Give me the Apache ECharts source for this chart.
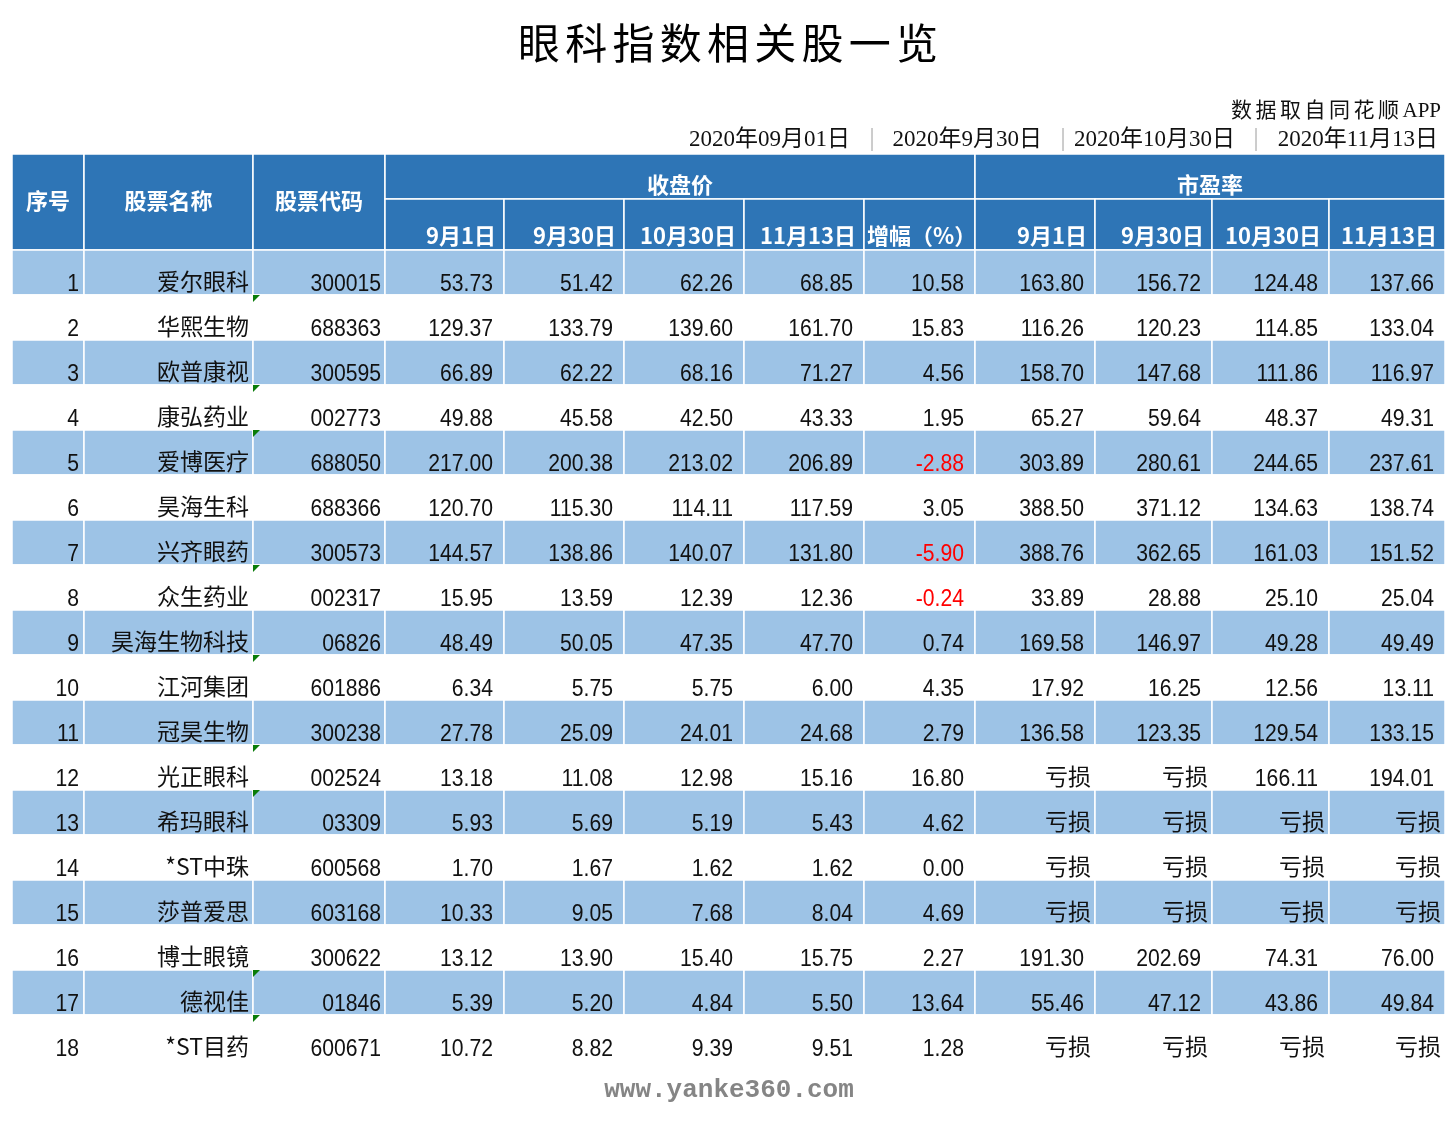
<!DOCTYPE html>
<html>
<head>
<meta charset="utf-8">
<title>眼科指数相关股一览</title>
<script src="https://cdn.jsdelivr.net/npm/echarts@6/dist/echarts.min.js"></script>
<style>
  html, body { margin: 0; padding: 0; background: #fff; }
  #main { width: 1452px; height: 1141px; }
</style>
</head>
<body>
<div id="main"></div>
<script>
// 数据
var names = ['爱尔眼科', '华熙生物', '欧普康视', '康弘药业', '爱博医疗', '昊海生科', '兴齐眼药', '众生药业', '昊海生物科技',
  '江河集团', '冠昊生物', '光正眼科', '希玛眼科', '*ST中珠', '莎普爱思', '博士眼镜', '德视佳', '*ST目药'];
var codes = ['300015', '688363', '300595', '002773', '688050', '688366', '300573', '002317', '06826',
  '601886', '300238', '002524', '03309', '600568', '603168', '300622', '01846', '600671'];
var close0901 = [53.73, 129.37, 66.89, 49.88, 217.00, 120.70, 144.57, 15.95, 48.49, 6.34, 27.78, 13.18, 5.93, 1.70, 10.33, 13.12, 5.39, 10.72];
var close0930 = [51.42, 133.79, 62.22, 45.58, 200.38, 115.30, 138.86, 13.59, 50.05, 5.75, 25.09, 11.08, 5.69, 1.67, 9.05, 13.90, 5.20, 8.82];
var close1030 = [62.26, 139.60, 68.16, 42.50, 213.02, 114.11, 140.07, 12.39, 47.35, 5.75, 24.01, 12.98, 5.19, 1.62, 7.68, 15.40, 4.84, 9.39];
var close1113 = [68.85, 161.70, 71.27, 43.33, 206.89, 117.59, 131.80, 12.36, 47.70, 6.00, 24.68, 15.16, 5.43, 1.62, 8.04, 15.75, 5.50, 9.51];
var change = [10.58, 15.83, 4.56, 1.95, -2.88, 3.05, -5.90, -0.24, 0.74, 4.35, 2.79, 16.80, 4.62, 0.00, 4.69, 2.27, 13.64, 1.28];
// null = 亏损
var pe0901 = [163.80, 116.26, 158.70, 65.27, 303.89, 388.50, 388.76, 33.89, 169.58, 17.92, 136.58, null, null, null, null, 191.30, 55.46, null];
var pe0930 = [156.72, 120.23, 147.68, 59.64, 280.61, 371.12, 362.65, 28.88, 146.97, 16.25, 123.35, null, null, null, null, 202.69, 47.12, null];
var pe1030 = [124.48, 114.85, 111.86, 48.37, 244.65, 134.63, 161.03, 25.10, 49.28, 12.56, 129.54, 166.11, null, null, null, 74.31, 43.86, null];
var pe1113 = [137.66, 133.04, 116.97, 49.31, 237.61, 138.74, 151.52, 25.04, 49.49, 13.11, 133.15, 194.01, null, null, null, 76.00, 49.84, null];
// 代码列左上角的绿色小三角（以文本形式存储的数字）
var textNumRows = [2, 4, 5, 8, 10, 12, 13, 17, 18];

var topHeaders = ['序号', '股票名称', '股票代码'];
var groupHeaders = ['收盘价', '市盈率'];
var subHeaders = ['9月1日', '9月30日', '10月30日', '11月13日', '增幅（%）', '9月1日', '9月30日', '10月30日', '11月13日'];
var dateLabels = ['2020年09月01日', '2020年9月30日', '2020年10月30日', '2020年11月13日'];

// 版式
var colWidths = [72, 169, 132, 119, 120, 120, 120, 111, 120, 117, 117, 116];
var bandHeights = [45, 51];
var rowHeight = 45;
var colEdges = [0];
for (var i = 0; i < colWidths.length; i++) colEdges.push(colEdges[i] + colWidths[i]);
var headerHeight = bandHeights[0] + bandHeights[1];
var tableWidth = colEdges[colEdges.length - 1];
var tableHeight = headerHeight + rowHeight * names.length;

var HEAD_BG = '#2e75b6';
var STRIPE_BG = '#9dc3e6';
var NUM_FONT = '"Liberation Sans", "Noto Sans CJK SC", sans-serif';
var CJK_FONT = '"Noto Sans CJK SC", sans-serif';

function fmt(v) {
  return v == null ? '亏损' : v.toFixed(2);
}

// 表体单元格
var bodyCells = [];
for (var r = 0; r < names.length; r++) {
  var row = [
    { text: String(r + 1), kind: 'num', pad: 5 },
    { text: names[r], kind: 'cjk', pad: 4 },
    { text: codes[r], kind: 'num', pad: 4, flag: textNumRows.indexOf(r + 1) >= 0 },
    { text: fmt(close0901[r]), kind: 'num', pad: 11 },
    { text: fmt(close0930[r]), kind: 'num', pad: 11 },
    { text: fmt(close1030[r]), kind: 'num', pad: 11 },
    { text: fmt(close1113[r]), kind: 'num', pad: 11 },
    { text: fmt(change[r]), kind: 'num', pad: 11, red: change[r] < 0 },
    { text: fmt(pe0901[r]), kind: pe0901[r] == null ? 'cjk' : 'num', pad: pe0901[r] == null ? 4 : 11 },
    { text: fmt(pe0930[r]), kind: pe0930[r] == null ? 'cjk' : 'num', pad: pe0930[r] == null ? 4 : 11 },
    { text: fmt(pe1030[r]), kind: pe1030[r] == null ? 'cjk' : 'num', pad: pe1030[r] == null ? 4 : 11 },
    { text: fmt(pe1113[r]), kind: pe1113[r] == null ? 'cjk' : 'num', pad: pe1113[r] == null ? 4 : 11 }
  ];
  for (var c = 0; c < row.length; c++) {
    row[c].col = c;
    row[c].row = r;
    bodyCells.push(row[c]);
  }
}

// 表头单元格
var headCells = [];
for (var i = 0; i < topHeaders.length; i++) {
  headCells.push({ c0: i, c1: i + 1, y0: 0, y1: headerHeight, text: topHeaders[i], align: 'center', vpos: 'center' });
}
headCells.push({ c0: 3, c1: 8, y0: 0, y1: bandHeights[0], text: groupHeaders[0], align: 'center', vpos: 'bottom' });
headCells.push({ c0: 8, c1: 12, y0: 0, y1: bandHeights[0], text: groupHeaders[1], align: 'center', vpos: 'bottom' });
for (var i = 0; i < subHeaders.length; i++) {
  headCells.push({ c0: 3 + i, c1: 4 + i, y0: bandHeights[0], y1: headerHeight, text: subHeaders[i],
    align: i === 4 ? 'left' : 'right', vpos: 'bottom' });
}

function renderBody(params, api) {
  var cell = bodyCells[params.dataIndex];
  var c = api.value(0), r = api.value(1);
  var top = headerHeight + r * rowHeight;
  var p0 = api.coord([colEdges[c], top]);
  var p1 = api.coord([colEdges[c + 1], top + rowHeight]);
  var isNum = cell.kind === 'num';
  var children = [{
    type: 'rect',
    shape: { x: p0[0], y: p0[1], width: p1[0] - p0[0], height: p1[1] - p0[1] },
    style: { fill: r % 2 === 0 ? STRIPE_BG : '#ffffff', stroke: '#ffffff', lineWidth: 1.5 }
  }, {
    type: 'text',
    x: p1[0] - cell.pad,
    y: p1[1] - (isNum ? 10.5 : 14),
    scaleX: isNum ? 0.92 : 1,
    style: {
      text: cell.text,
      fill: cell.red ? '#ff0000' : '#111111',
      fontSize: 23,
      fontFamily: isNum ? NUM_FONT : CJK_FONT,
      align: 'right',
      verticalAlign: 'middle'
    }
  }];
  if (cell.flag) {
    children.push({
      type: 'polygon',
      shape: { points: [[p0[0], p0[1]], [p0[0] + 7, p0[1]], [p0[0], p0[1] + 7]] },
      style: { fill: '#0a7d0a' }
    });
  }
  return { type: 'group', children: children };
}

function renderHead(params, api) {
  var cell = headCells[params.dataIndex];
  var p0 = api.coord([colEdges[cell.c0], cell.y0]);
  var p1 = api.coord([colEdges[cell.c1], cell.y1]);
  var tx = cell.align === 'center' ? (p0[0] + p1[0]) / 2 : (cell.align === 'left' ? p0[0] + 3 : p1[0] - 8);
  var ty = cell.vpos === 'center' ? (p0[1] + p1[1]) / 2 - 1 : p1[1] - 14;
  return {
    type: 'group',
    children: [{
      type: 'rect',
      shape: { x: p0[0], y: p0[1], width: p1[0] - p0[0], height: p1[1] - p0[1] },
      style: { fill: HEAD_BG, stroke: '#ffffff', lineWidth: 1.5 }
    }, {
      type: 'text',
      x: tx,
      y: ty,
      style: {
        text: cell.text,
        fill: '#ffffff',
        fontSize: 22,
        fontWeight: 'bold',
        fontFamily: CJK_FONT,
        align: cell.align,
        verticalAlign: 'middle'
      }
    }]
  };
}

var chart = echarts.init(document.getElementById('main'), null, { renderer: 'canvas' });

var graphics = [{
  type: 'text',
  x: 728,
  y: 43,
  style: {
    text: '眼科指数相关股一览'.split('').join('\u200a\u200a'),
    fontSize: 42,
    fontFamily: CJK_FONT,
    fill: '#000000',
    align: 'center',
    verticalAlign: 'middle'
  }
}, {
  type: 'text',
  x: 1441,
  y: 111,
  style: {
    text: '数据取自同花顺'.split('').join('\u200a\u200a') + '\u200a\u200aAPP',
    fontSize: 21,
    fontFamily: '"Liberation Serif", "Noto Sans CJK SC", serif',
    fill: '#111111',
    align: 'right',
    verticalAlign: 'middle'
  }
}, {
  type: 'text',
  x: 729,
  y: 1090,
  style: {
    text: 'www.yanke360.com',
    fontSize: 26,
    fontWeight: 'bold',
    fontFamily: '"Liberation Mono", monospace',
    fill: '#858585',
    align: 'center',
    verticalAlign: 'middle'
  }
}];
var dateRight = [850, 1042, 1235, 1438];
var sepX = [872, 1063, 1256];
for (var i = 0; i < dateLabels.length; i++) {
  graphics.push({
    type: 'text',
    x: dateRight[i],
    y: 140,
    style: {
      text: dateLabels[i],
      fontSize: 23,
      fontFamily: '"Liberation Serif", "Noto Sans CJK SC", serif',
      fill: '#111111',
      align: 'right',
      verticalAlign: 'middle'
    }
  });
}
for (var i = 0; i < sepX.length; i++) {
  graphics.push({
    type: 'line',
    shape: { x1: sepX[i], y1: 128, x2: sepX[i], y2: 151 },
    style: { stroke: '#9a9a9a', lineWidth: 1 }
  });
}

var option = {
  backgroundColor: '#ffffff',
  animation: false,
  graphic: graphics,
  grid: { left: 12, top: 154, width: tableWidth, height: tableHeight },
  xAxis: { type: 'value', min: 0, max: tableWidth, show: false },
  yAxis: { type: 'value', min: 0, max: tableHeight, inverse: true, show: false },
  series: [{
    name: '表头',
    type: 'custom',
    renderItem: renderHead,
    clip: false,
    data: headCells.map(function (h) { return [h.c0, h.y0]; })
  }, {
    name: '表体',
    type: 'custom',
    renderItem: renderBody,
    clip: false,
    data: bodyCells.map(function (b) { return [b.col, b.row]; })
  }]
};

chart.setOption(option);
</script>
</body>
</html>
